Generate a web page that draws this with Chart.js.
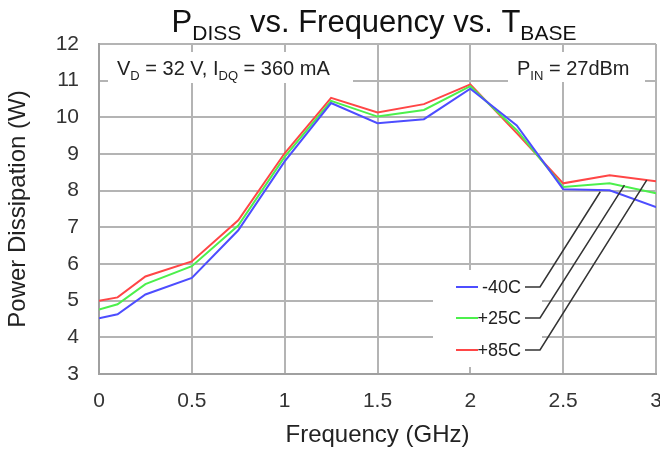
<!DOCTYPE html>
<html>
<head>
<meta charset="utf-8">
<script src="https://cdn.jsdelivr.net/npm/chart.js@4/dist/chart.umd.min.js"></script>
<style>
  html, body { margin: 0; padding: 0; background: #fff; }
  #wrap { width: 660px; height: 457px; }
</style>
</head>
<body>
<div id="wrap"><canvas id="pdiss" width="660" height="457"></canvas></div>
<script>
// Frequenz in GHz
const freq = [0, 0.1, 0.25, 0.5, 0.75, 1.0, 1.25, 1.5, 1.75, 2.0, 2.25, 2.5, 2.75, 3.0];
// Verlustleistung (W) je Temperatur
const pM40 = [4.52, 4.63, 5.17, 5.62, 6.92, 8.80, 10.39, 9.84, 9.95, 10.78, 9.78, 8.04, 8.01, 7.55];
const pP25 = [4.76, 4.90, 5.45, 5.94, 7.05, 8.92, 10.45, 10.02, 10.20, 10.85, 9.65, 8.10, 8.20, 7.93];
const pP85 = [5.00, 5.09, 5.66, 6.07, 7.19, 9.02, 10.53, 10.13, 10.36, 10.90, 9.57, 8.20, 8.42, 8.26];
const seriesLabels = ["-40C", "+25C", "+85C"];
const seriesColors = ["#4d4dff", "#4cf04c", "#ff4646"];
// Zielpunkte der Legenden-Hinweislinien (Datenkoordinaten)
const calloutX = [2.70, 2.83, 2.95];
const calloutY = [7.97, 8.15, 8.29];
const yTicks = [3, 4, 5, 6, 7, 8, 9, 10, 11, 12];
const xTickLabels = ["0", "0.5", "1", "1.5", "2", "2.5", "3"];

const FONT = "'Liberation Sans', Arial, sans-serif";
const TXT = "#222";

function toXY(arr) {
  return freq.map((f, i) => ({ x: f, y: arr[i] }));
}

// Text mit Tiefstellungen: parts = [[text, sub?], ...]
function drawRich(ctx, parts, x, y, size, subSize, align) {
  let total = 0;
  parts.forEach(p => {
    ctx.font = (p[1] ? subSize : size) + "px " + FONT;
    total += ctx.measureText(p[0]).width;
  });
  let cx = align === "center" ? x - total / 2 : x;
  ctx.textAlign = "left";
  ctx.textBaseline = "alphabetic";
  parts.forEach(p => {
    ctx.font = (p[1] ? subSize : size) + "px " + FONT;
    ctx.fillText(p[0], cx, p[1] ? y + size * 0.25 : y);
    cx += ctx.measureText(p[0]).width;
  });
}

const decor = {
  id: "decor",
  beforeDatasetsDraw(chart) {
    const ctx = chart.ctx;
    ctx.save();
    ctx.fillStyle = "#fff";
    ctx.fillRect(108, 52, 245, 31);
    ctx.fillRect(508, 52, 137, 30);
    ctx.fillRect(433, 270, 109, 97);
    ctx.restore();
  },
  afterDatasetsDraw(chart) {
    const ctx = chart.ctx;
    const xs = chart.scales.x, ys = chart.scales.y;
    ctx.save();
    ctx.fillStyle = TXT;
    drawRich(ctx, [["V", 0], ["D", 1], [" = 32 V, I", 0], ["DQ", 1], [" = 360 mA", 0]], 117, 75, 20, 13, "left");
    drawRich(ctx, [["P", 0], ["IN", 1], [" = 27dBm", 0]], 517, 75, 20, 13, "left");

    // Legende mit Hinweislinien
    const rowY = [287, 318, 350];
    chart.data.datasets.forEach((ds, i) => {
      const y = rowY[i];
      ctx.strokeStyle = ds.borderColor;
      ctx.lineWidth = 2;
      ctx.beginPath();
      ctx.moveTo(456, y);
      ctx.lineTo(478, y);
      ctx.stroke();
      ctx.fillStyle = TXT;
      ctx.font = "18px " + FONT;
      ctx.textAlign = "right";
      ctx.textBaseline = "middle";
      ctx.fillText(ds.label, 521, y + 1);
      ctx.strokeStyle = "#333";
      ctx.lineWidth = 1.5;
      ctx.beginPath();
      ctx.moveTo(525, y);
      ctx.lineTo(540, y);
      ctx.lineTo(xs.getPixelForValue(calloutX[i]), ys.getPixelForValue(calloutY[i]));
      ctx.stroke();
    });
    ctx.restore();
  },
  afterDraw(chart) {
    const ctx = chart.ctx;
    ctx.save();
    ctx.fillStyle = "#111";
    drawRich(ctx, [["P", 0], ["DISS", 1], [" vs. Frequency vs. T", 0], ["BASE", 1]], 374, 32, 31, 21, "center");
    ctx.restore();
  }
};

new Chart(document.getElementById("pdiss"), {
  type: "line",
  data: {
    datasets: [pM40, pP25, pP85].map((arr, i) => ({
      label: seriesLabels[i],
      data: toXY(arr),
      borderColor: seriesColors[i],
      borderWidth: 2,
      pointRadius: 0,
      fill: false,
      tension: 0
    }))
  },
  options: {
    responsive: false,
    animation: false,
    layout: { padding: { top: 44, right: 4, bottom: 0, left: 0 } },
    plugins: { legend: { display: false }, tooltip: { enabled: false }, title: { display: false } },
    scales: {
      x: {
        type: "linear",
        min: 0, max: 3,
        afterFit: s => { s.height = 83; s.paddingRight = 0; s.paddingLeft = 0; },
        ticks: {
          stepSize: 0.5, padding: 15, color: "#333", maxRotation: 0,
          font: { family: FONT, size: 21 },
          callback: (v, i) => xTickLabels[i]
        },
        grid: { color: "#b4b4b4", lineWidth: 2, drawTicks: false },
        border: { color: "#a0a0a0", width: 2 },
        title: { display: true, text: "Frequency (GHz)", color: "#222", font: { family: FONT, size: 24 }, padding: { top: 0, bottom: 7 } }
      },
      y: {
        min: 3, max: 12,
        afterFit: s => { s.width = 99; },
        afterBuildTicks: s => { s.ticks = yTicks.map(v => ({ value: v })); },
        ticks: { padding: 20, color: "#333", font: { family: FONT, size: 21 } },
        grid: { color: "#b4b4b4", lineWidth: 2, drawTicks: false },
        border: { color: "#a0a0a0", width: 2 },
        title: { display: true, text: "Power Dissipation (W)", color: "#222", font: { family: FONT, size: 24 }, padding: { top: 4, bottom: 0 } }
      }
    }
  },
  plugins: [decor]
});
</script>
</body>
</html>
